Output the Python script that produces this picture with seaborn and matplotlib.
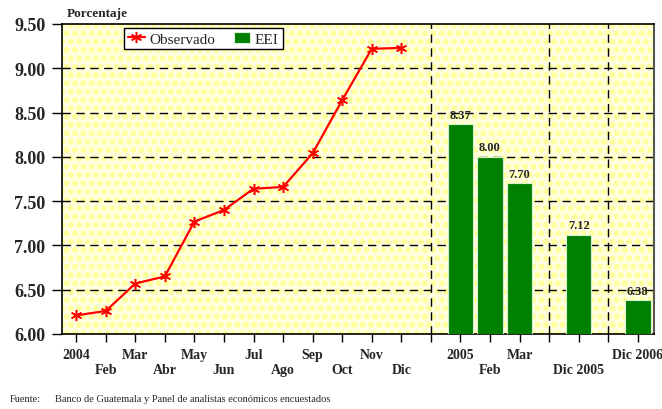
import numpy as np
import pandas as pd
import matplotlib
matplotlib.use('Agg')
import matplotlib.pyplot as plt
import seaborn as sns
from matplotlib.patches import Rectangle

# slots along the x axis (sepN are the separator slots)
slots = ['Ene 2004', 'Feb 2004', 'Mar 2004', 'Abr 2004', 'May 2004', 'Jun 2004',
         'Jul 2004', 'Ago 2004', 'Sep 2004', 'Oct 2004', 'Nov 2004', 'Dic 2004',
         'sep1', 'Ene 2005', 'Feb 2005', 'Mar 2005', 'sep2', 'Dic 2005', 'sep3', 'Dic 2006']
tick_labels = ['2004', '\nFeb', 'Mar', '\nAbr', 'May', '\nJun', 'Jul', '\nAgo', 'Sep',
               '\nOct', 'Nov', '\nDic', '', '2005', '\nFeb', 'Mar', '', '\nDic 2005', '',
               'Dic 2006']
separators = ['sep1', 'sep2', 'sep3']

# observed rate 2004
obs_months = slots[:12]
obs_values = [6.21, 6.26, 6.57, 6.65, 7.27, 7.40, 7.64, 7.66, 8.04, 8.64, 9.22, 9.23]

# expectations (EEI)
eei_slots = ['Ene 2005', 'Feb 2005', 'Mar 2005', 'Dic 2005', 'Dic 2006']
eei_values = [8.37, 8.00, 7.70, 7.12, 6.38]

pos = {s: i for i, s in enumerate(slots)}
obs = pd.DataFrame({'x': [pos[m] for m in obs_months], 'y': obs_values})
eei = pd.DataFrame({'x': [pos[m] for m in eei_slots], 'y': eei_values})

sns.set_style('white')
plt.rcParams['font.family'] = ['Liberation Serif', 'DejaVu Serif']

fig = plt.figure(figsize=(6.62, 4.10), dpi=100)
ax = fig.add_axes([62 / 662, 1 - 335 / 410, (654 - 62) / 662, (335 - 25) / 410])

# patterned pale yellow background
ax.set_facecolor('#ffffe0')
plt.rcParams['hatch.linewidth'] = 1.5
bg = Rectangle((0, 0), 1, 1, transform=ax.transAxes, facecolor='none',
               edgecolor='#ffff9c', hatch='oo', linewidth=0, zorder=0)
ax.add_patch(bg)

# grid
for yv in [6.5, 7.0, 7.5, 8.0, 8.5, 9.0]:
    ax.axhline(yv, color='black', lw=1.0, ls=(0, (6, 4)), zorder=1)
for s in separators:
    ax.axvline(pos[s], color='black', lw=1.0, ls=(0, (6, 4)), zorder=1)

sns.barplot(data=eei, x='x', y='y', native_scale=True, width=0.87, color='#008000',
            saturation=1, edgecolor='#d8f0d8', linewidth=0.8, ax=ax, zorder=3,
            label='EEI')
sns.lineplot(data=obs, x='x', y='y', color='red', lw=1.6, marker=(6, 2, 0),
             markersize=8, markeredgecolor='red', markeredgewidth=1.1, ax=ax,
             zorder=4, label='Observado')

for xv, yv in zip(eei['x'], eei['y']):
    ax.text(xv, yv + 0.04, f'{yv:.2f}', ha='center', va='bottom', fontsize=9,
            fontweight='bold', zorder=5)

ax.set_xlim(-0.48, 19.55)
ax.set_ylim(6.0, 9.5)
ax.set_xticks(range(len(slots)))
ax.set_xticklabels(tick_labels, fontsize=10, fontweight='bold', va='top')
ax.set_yticks(np.arange(6.0, 9.51, 0.5))
ax.set_yticklabels([f'{v:.2f}' for v in np.arange(6.0, 9.51, 0.5)], fontsize=13,
                   fontweight='bold')
ax.tick_params(axis='x', direction='out', length=6, width=1, color='black', pad=4,
               bottom=True)
ax.tick_params(axis='y', direction='out', length=7, width=1, color='black', pad=5,
               left=True)
ax.set_xlabel('')
ax.set_ylabel('')

for side in ['left', 'bottom', 'top']:
    ax.spines[side].set_color('black')
    ax.spines[side].set_linewidth(1.2)
ax.spines['right'].set_color('#555555')
ax.spines['right'].set_linewidth(1.5)

handles, labels = ax.get_legend_handles_labels()
order = [labels.index('Observado'), labels.index('EEI')]
leg = ax.legend([handles[i] for i in order], [labels[i] for i in order], ncol=2,
                loc='upper left', bbox_to_anchor=(0.105, 0.987), borderaxespad=0,
                frameon=True, fancybox=False, edgecolor='black', framealpha=1,
                fontsize=11, handlelength=1.1, handletextpad=0.3, columnspacing=1.2,
                borderpad=0.25)
leg.get_frame().set_linewidth(1.0)
leg.set_zorder(6)

fig.text(67 / 662, 1 - 14 / 410, 'Porcentaje', fontsize=9.5, fontweight='bold',
         va='center', ha='left')
fig.text(10 / 662, 1 - 400 / 410, 'Fuente:', fontsize=7.5, va='center', ha='left')
fig.text(55 / 662, 1 - 400 / 410, 'Banco de Guatemala y Panel de analistas económicos encuestados',
         fontsize=7.5, va='center', ha='left')

fig.savefig('out.png', dpi=100)
